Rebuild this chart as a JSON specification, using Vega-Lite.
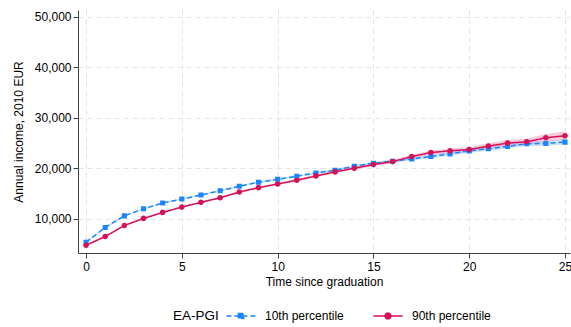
{
  "$schema": "https://vega.github.io/schema/vega-lite/v6.json",
  "width": 492,
  "height": 243,
  "autosize": {"type": "none"},
  "padding": {"left": 78, "top": 10, "right": 1, "bottom": 74},
  "background": "white",
  "config": {
    "view": {"stroke": null},
    "font": "Liberation Sans",
    "axis": {
      "domainColor": "#444444",
      "tickColor": "#444444",
      "labelColor": "#000000",
      "titleColor": "#000000",
      "labelFontSize": 12,
      "titleFontSize": 12,
      "titleFontWeight": "normal",
      "gridColor": "#e4e4e4",
      "gridDash": [5, 4],
      "tickSize": 5,
      "domainWidth": 1
    }
  },
  "data": {
    "values": [
      {"t": 0, "series": "10th percentile", "income": 5368, "lo": 5218, "hi": 5518},
      {"t": 1, "series": "10th percentile", "income": 8290, "lo": 8140, "hi": 8440},
      {"t": 2, "series": "10th percentile", "income": 10596, "lo": 10446, "hi": 10746},
      {"t": 3, "series": "10th percentile", "income": 11988, "lo": 11838, "hi": 12138},
      {"t": 4, "series": "10th percentile", "income": 13121, "lo": 12971, "hi": 13271},
      {"t": 5, "series": "10th percentile", "income": 13917, "lo": 13757, "hi": 14077},
      {"t": 6, "series": "10th percentile", "income": 14712, "lo": 14542, "hi": 14882},
      {"t": 7, "series": "10th percentile", "income": 15567, "lo": 15387, "hi": 15747},
      {"t": 8, "series": "10th percentile", "income": 16441, "lo": 16251, "hi": 16631},
      {"t": 9, "series": "10th percentile", "income": 17237, "lo": 17037, "hi": 17437},
      {"t": 10, "series": "10th percentile", "income": 17833, "lo": 17623, "hi": 18043},
      {"t": 11, "series": "10th percentile", "income": 18429, "lo": 18209, "hi": 18649},
      {"t": 12, "series": "10th percentile", "income": 19085, "lo": 18855, "hi": 19315},
      {"t": 13, "series": "10th percentile", "income": 19622, "lo": 19382, "hi": 19862},
      {"t": 14, "series": "10th percentile", "income": 20417, "lo": 20157, "hi": 20677},
      {"t": 15, "series": "10th percentile", "income": 21014, "lo": 20734, "hi": 21294},
      {"t": 16, "series": "10th percentile", "income": 21412, "lo": 21112, "hi": 21712},
      {"t": 17, "series": "10th percentile", "income": 21869, "lo": 21549, "hi": 22189},
      {"t": 18, "series": "10th percentile", "income": 22326, "lo": 21986, "hi": 22666},
      {"t": 19, "series": "10th percentile", "income": 22863, "lo": 22503, "hi": 23223},
      {"t": 20, "series": "10th percentile", "income": 23459, "lo": 23079, "hi": 23839},
      {"t": 21, "series": "10th percentile", "income": 23857, "lo": 23457, "hi": 24257},
      {"t": 22, "series": "10th percentile", "income": 24324, "lo": 23904, "hi": 24744},
      {"t": 23, "series": "10th percentile", "income": 24861, "lo": 24411, "hi": 25311},
      {"t": 24, "series": "10th percentile", "income": 24920, "lo": 24440, "hi": 25400},
      {"t": 25, "series": "10th percentile", "income": 25189, "lo": 24689, "hi": 25689},
      {"t": 0, "series": "90th percentile", "income": 4771, "lo": 4621, "hi": 4921},
      {"t": 1, "series": "90th percentile", "income": 6501, "lo": 6351, "hi": 6651},
      {"t": 2, "series": "90th percentile", "income": 8688, "lo": 8538, "hi": 8838},
      {"t": 3, "series": "90th percentile", "income": 10080, "lo": 9930, "hi": 10230},
      {"t": 4, "series": "90th percentile", "income": 11272, "lo": 11122, "hi": 11422},
      {"t": 5, "series": "90th percentile", "income": 12326, "lo": 12166, "hi": 12486},
      {"t": 6, "series": "90th percentile", "income": 13260, "lo": 13090, "hi": 13430},
      {"t": 7, "series": "90th percentile", "income": 14175, "lo": 13995, "hi": 14355},
      {"t": 8, "series": "90th percentile", "income": 15308, "lo": 15118, "hi": 15498},
      {"t": 9, "series": "90th percentile", "income": 16163, "lo": 15963, "hi": 16363},
      {"t": 10, "series": "90th percentile", "income": 16899, "lo": 16689, "hi": 17109},
      {"t": 11, "series": "90th percentile", "income": 17634, "lo": 17404, "hi": 17864},
      {"t": 12, "series": "90th percentile", "income": 18489, "lo": 18239, "hi": 18739},
      {"t": 13, "series": "90th percentile", "income": 19284, "lo": 19014, "hi": 19554},
      {"t": 14, "series": "90th percentile", "income": 20020, "lo": 19730, "hi": 20310},
      {"t": 15, "series": "90th percentile", "income": 20736, "lo": 20426, "hi": 21046},
      {"t": 16, "series": "90th percentile", "income": 21332, "lo": 20992, "hi": 21672},
      {"t": 17, "series": "90th percentile", "income": 22326, "lo": 21946, "hi": 22706},
      {"t": 18, "series": "90th percentile", "income": 23121, "lo": 22701, "hi": 23541},
      {"t": 19, "series": "90th percentile", "income": 23459, "lo": 22999, "hi": 23919},
      {"t": 20, "series": "90th percentile", "income": 23718, "lo": 23218, "hi": 24218},
      {"t": 21, "series": "90th percentile", "income": 24394, "lo": 23844, "hi": 24944},
      {"t": 22, "series": "90th percentile", "income": 24990, "lo": 24390, "hi": 25590},
      {"t": 23, "series": "90th percentile", "income": 25249, "lo": 24599, "hi": 25899},
      {"t": 24, "series": "90th percentile", "income": 26044, "lo": 25294, "hi": 26794},
      {"t": 25, "series": "90th percentile", "income": 26441, "lo": 25591, "hi": 27291}
    ]
  },
  "encoding": {
    "x": {
      "field": "t",
      "type": "quantitative",
      "scale": {"domain": [-0.42, 25.26], "nice": false, "zero": false},
      "axis": {
        "title": "Time since graduation",
        "values": [0, 5, 10, 15, 20, 25],
        "labelPadding": 3,
        "titlePadding": 4,
        "grid": true,
        "labelFlush": false
      }
    }
  },
  "layer": [
    {
      "mark": {"type": "area", "fillOpacity": 0.22},
      "encoding": {
        "y": {
          "field": "lo",
          "type": "quantitative",
          "scale": {"domain": [3240, 51330], "nice": false, "zero": false},
          "axis": {
            "title": "Annual income, 2010 EUR",
            "values": [10000, 20000, 30000, 40000, 50000],
            "format": ",d",
            "labelPadding": 2,
            "titlePadding": 9,
            "grid": true
          }
        },
        "y2": {"field": "hi"},
        "fill": {
          "field": "series",
          "type": "nominal",
          "scale": {"range": ["#1A85FF", "#D41159"]},
          "legend": null
        }
      }
    },
    {
      "mark": {"type": "line", "strokeWidth": 1.5},
      "encoding": {
        "y": {
          "field": "income",
          "type": "quantitative",
          "scale": {"domain": [3240, 51330], "nice": false, "zero": false},
          "axis": {
            "title": "Annual income, 2010 EUR",
            "values": [10000, 20000, 30000, 40000, 50000],
            "format": ",d",
            "labelPadding": 2,
            "titlePadding": 9,
            "grid": true
          }
        },
        "color": {
          "field": "series",
          "type": "nominal",
          "scale": {"domain": ["10th percentile", "90th percentile"], "range": ["#1A85FF", "#D41159"]},
          "legend": {
            "title": "EA-PGI",
            "orient": "none",
            "legendX": 95,
            "legendY": 300,
            "direction": "horizontal",
            "titleOrient": "left",
            "titleFontSize": 13.5,
            "titleFontWeight": "normal",
            "titleColor": "#000000",
            "titlePadding": 16,
            "labelFontSize": 12,
            "labelColor": "#000000",
            "labelOffset": 18,
            "columnPadding": 26,
            "symbolSize": 34,
            "symbolStrokeWidth": 1.5
          }
        },
        "strokeDash": {
          "field": "series",
          "type": "nominal",
          "scale": {"domain": ["10th percentile", "90th percentile"], "range": [[5, 3], [1, 0]]}
        }
      }
    },
    {
      "mark": {"type": "point", "filled": true, "size": 32, "opacity": 1},
      "encoding": {
        "y": {
          "field": "income",
          "type": "quantitative",
          "scale": {"domain": [3240, 51330], "nice": false, "zero": false},
          "axis": {
            "title": "Annual income, 2010 EUR",
            "values": [10000, 20000, 30000, 40000, 50000],
            "format": ",d",
            "labelPadding": 2,
            "titlePadding": 9,
            "grid": true
          }
        },
        "color": {"field": "series", "type": "nominal"},
        "shape": {
          "field": "series",
          "type": "nominal",
          "scale": {
            "domain": ["10th percentile", "90th percentile"],
            "range": ["M-5,0H5M-0.9,-0.9H0.9V0.9H-0.9Z", "M-5,0H5M1,0A1,1 0 1,1 -1,0A1,1 0 1,1 1,0Z"]
          }
        }
      }
    }
  ]
}
